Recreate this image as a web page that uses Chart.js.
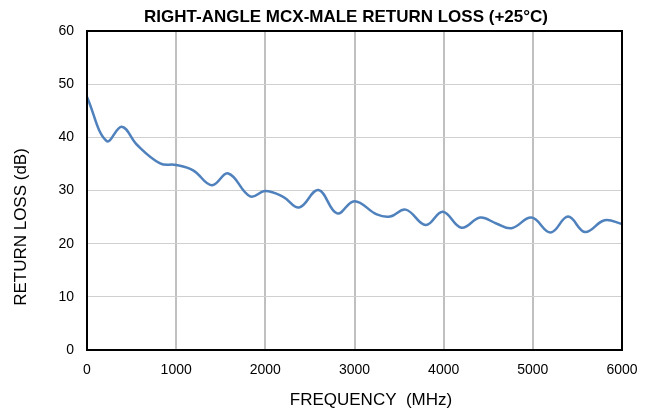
<!DOCTYPE html>
<html>
<head>
<meta charset="utf-8">
<script src="https://cdn.jsdelivr.net/npm/chart.js@4"></script>
<style>
  html,body{margin:0;padding:0;background:#fff;}
  #wrap{width:650px;height:415px;}
</style>
</head>
<body>
<div id="wrap"><canvas id="rl"></canvas></div>
<script>
/* return loss data */
const freqMHz   = [0,  220, 390, 560, 820, 1000, 1190, 1400, 1585, 1830, 2000, 2200, 2380, 2595, 2805, 3000, 3250, 3400, 3575, 3800, 3990, 4200, 4410, 4590, 4760, 4985, 5200, 5395, 5585, 5805, 6000];
const lossDb    = [47.6,39.3,42.0,38.6,35.1,34.8, 33.8, 31.0, 33.2, 28.9, 29.9, 28.8, 26.8, 30.1, 25.7, 28.0, 25.5, 25.1, 26.4, 23.5, 26.0, 23.0, 24.9, 23.8, 22.9, 24.9, 22.1, 25.1, 22.2, 24.4, 23.7];
const xTicks    = [0,1000,2000,3000,4000,5000,6000];
const yTicks    = [0,10,20,30,40,50,60];
const chartTitle = 'RIGHT-ANGLE MCX-MALE RETURN LOSS (+25°C)';
const xTitle     = 'FREQUENCY  (MHz)';
const yTitle     = 'RETURN LOSS (dB)';

const FONT = 'Liberation Sans, Arial, sans-serif';

/* frame + titles, placed like the original sheet */
const decor = {
  id:'decor',
  afterDatasetsDraw(c){
    const a=c.chartArea, g=c.ctx;
    g.save();
    g.strokeStyle='#000'; g.lineWidth=2;
    g.strokeRect(a.left,a.top,a.right-a.left,a.bottom-a.top);
    g.fillStyle='#000'; g.textAlign='center'; g.textBaseline='middle';
    g.font='bold 17px '+FONT;
    g.fillText(chartTitle,346,17);
    g.font='17px '+FONT;
    g.fillText(xTitle,371,400);
    g.translate(21,227); g.rotate(-Math.PI/2);
    g.fillText(yTitle,0,0);
    g.restore();
  }
};

new Chart(document.getElementById('rl'),{
  type:'line',
  data:{datasets:[{
    data:freqMHz.map((f,i)=>({x:f,y:lossDb[i]})),
    borderColor:'#4f81bd',borderWidth:2.5,
    pointRadius:0,tension:0.4,fill:false
  }]},
  options:{
    responsive:true,maintainAspectRatio:false,animation:false,
    layout:{padding:{left:0,right:28,top:31,bottom:0}},
    plugins:{legend:{display:false},tooltip:{enabled:false},title:{display:false}},
    scales:{
      x:{type:'linear',min:0,max:6000,
         afterBuildTicks:ax=>{ax.ticks=xTicks.map(v=>({value:v}));},
         afterFit:ax=>{ax.height=65;},
         grid:{color:'#c0c0c0',lineWidth:2,drawTicks:false},
         border:{display:false},
         ticks:{color:'#000',font:{family:FONT,size:14},padding:12,maxRotation:0,callback:v=>String(v)}},
      y:{min:0,max:60,
         afterBuildTicks:ax=>{ax.ticks=yTicks.map(v=>({value:v}));},
         afterFit:ax=>{ax.width=87;},
         grid:{color:'#d0d0d0',lineWidth:1,drawTicks:false},
         border:{display:false},
         ticks:{color:'#000',font:{family:FONT,size:14},padding:13,callback:v=>String(v)}}
    }
  },
  plugins:[decor]
});
</script>
</body>
</html>
